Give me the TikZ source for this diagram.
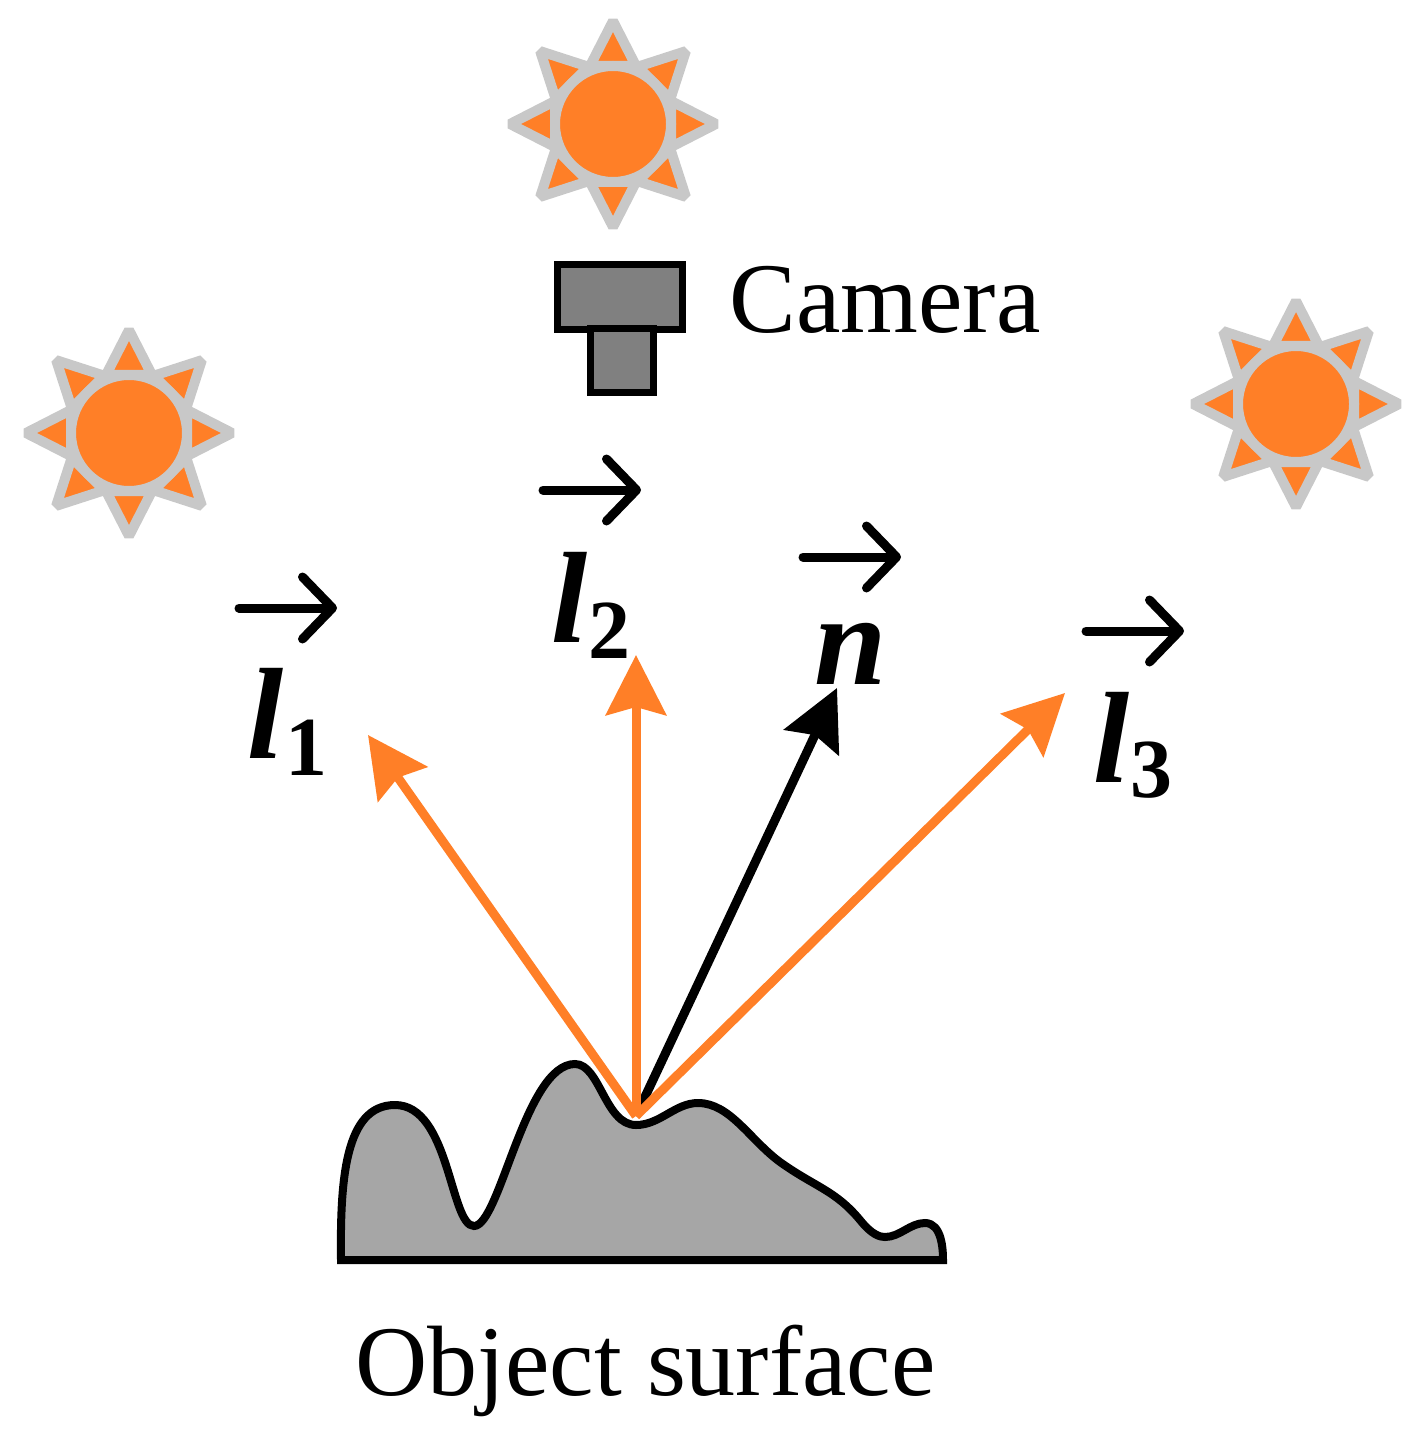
\documentclass[tikz,border=0pt]{standalone}
\usepackage{fontspec}
\setmainfont{Liberation Serif}
\usetikzlibrary{arrows.meta}
\definecolor{sunorange}{HTML}{FF7F27}
\definecolor{sunrim}{HTML}{C8C8C8}
\definecolor{camgray}{HTML}{808080}
\definecolor{surfgray}{HTML}{A6A6A6}
\tikzset{
  sunpart/.style={draw=sunrim,fill=sunorange,line width=5pt,line join=bevel},
  sun/.pic={
    \foreach \ang in {0,45,...,315}
      \draw[sunpart,rotate=\ang] (-23,-58) -- (0,-103) -- (23,-58) -- cycle;
    \draw[sunpart] (0,0) circle (58);
  },
  cam/.style={draw=black,fill=camgray,line width=3.5pt,inner sep=0pt,rectangle},
  ray/.style={line width=4.5pt,-{Stealth[length=30pt,width=30pt,inset=4pt]}},
  over/.style={line width=4.5pt,line cap=round,line join=round,-{Straight Barb[length=15pt,width=31pt,round]}},
  big/.style={inner sep=0pt,font=\fontsize{50}{55}\selectfont},
  sym/.style={inner sep=0pt,anchor=base west,font=\fontsize{65}{70}\selectfont\bfseries\itshape},
  idx/.style={inner sep=0pt,anchor=base west,font=\fontsize{42}{46}\selectfont\bfseries}
}
\begin{document}
\begin{tikzpicture}[x=0.5pt,y=-0.5pt]
\useasboundingbox (0,0) rectangle (1421,1443);
\pic at (613,124) {sun};
\pic at (129,433) {sun};
\pic at (1296,404) {sun};
\node[cam,minimum width=62.5pt,minimum height=32.5pt] (body) at (619.5,297.5) {};
\node[cam,minimum width=31.5pt,minimum height=32pt] (lens) at (621.5,360.5) {};
\node[big,anchor=base west] (camera) at (729,333) {Camera};
\draw[black,line width=4pt,fill=surfgray] (341,1260)
  .. controls (340,1180) and (345,1105) .. (395,1105)
  .. controls (450,1105) and (450,1226) .. (474,1226)
  .. controls (500,1226) and (525,1064) .. (575,1064)
  .. controls (600,1064) and (605,1125) .. (636,1125)
  .. controls (660,1125) and (675,1103) .. (698,1103)
  .. controls (730,1103) and (750,1140) .. (780,1162)
  .. controls (815,1187) and (835,1190) .. (860,1220)
  .. controls (872,1235) and (880,1237) .. (885,1237)
  .. controls (900,1237) and (910,1223) .. (925,1223)
  .. controls (942,1223) and (943,1250) .. (943,1260) -- cycle;
\node[big,anchor=base west] (surface) at (355,1395) {Object surface};
\coordinate (foot) at (636,1116);
\coordinate (tipa) at (368,735);
\coordinate (tipb) at (636,655);
\coordinate (tipc) at (1065,693);
\coordinate (tipn) at (837,688);
\draw[ray,black] (foot) -- (tipn);
\foreach \tip in {tipa,tipb,tipc}
  \draw[ray,sunorange] (foot) -- (\tip);
\foreach \name/\ax/\ay in {a/239/608,b/543/490,c/1086/631,n/803/557} {
  \coordinate (over\name) at (\ax,\ay);
  \coordinate (head\name) at (\ax+98,\ay);
  \draw[over] (over\name) -- (head\name);
}
\node[sym] (la) at (247,758) {l};
\node[idx] (ia) at (285,775) {1};
\node[sym] (lb) at (551,642) {l};
\node[idx] (ib) at (588,658) {2};
\node[sym] (lc) at (1093,782) {l};
\node[idx] (ic) at (1130,797) {3};
\node[sym] (nn) at (814,684) {n};
\end{tikzpicture}
\end{document}
